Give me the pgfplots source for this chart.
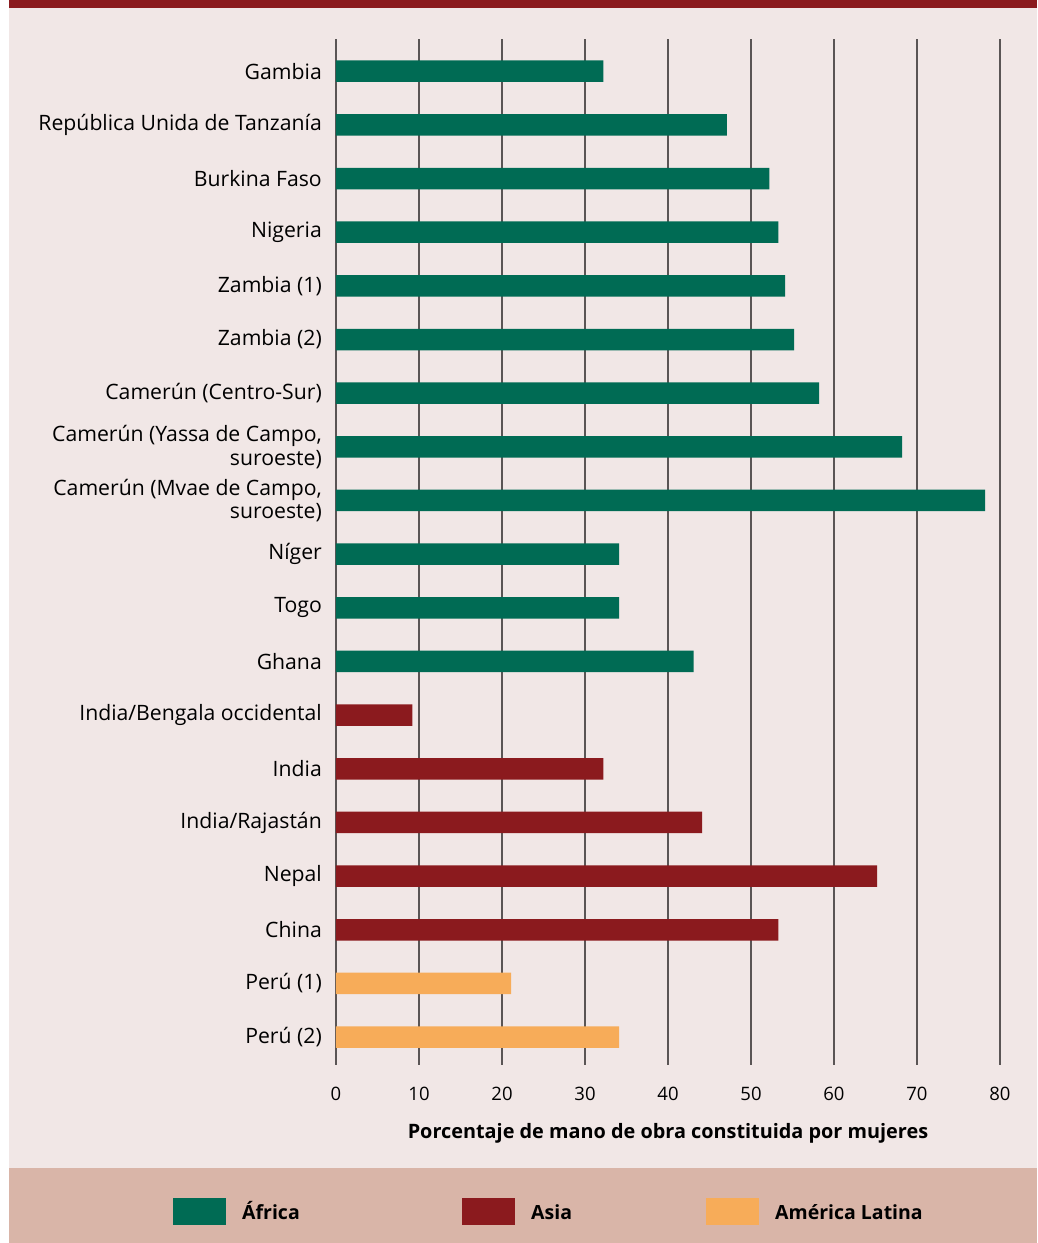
\documentclass[border=0pt]{standalone}
\usepackage{fontspec}
\setmainfont{Open Sans}
\usepackage{pgfplots}
\pgfplotsset{compat=1.18}
\definecolor{afr}{HTML}{006B54}
\definecolor{asi}{HTML}{8B1A1E}
\definecolor{lat}{HTML}{F7AC59}
\definecolor{bg}{HTML}{F1E7E6}
\definecolor{band}{HTML}{D9B5A8}
\definecolor{gridc}{HTML}{5A5555}
\begin{document}
\begin{tikzpicture}[x=1pt,y=1pt]
\useasboundingbox (0,0) rectangle (1037,1243);
\fill[white] (0,0) rectangle (1037,1243);
\fill[bg] (9,75) rectangle (1037,1235);
\fill[asi] (9,1235) rectangle (1037,1243);
\fill[band] (9,0) rectangle (1037,75);
\begin{axis}[
  at={(336pt,178pt)}, anchor=south west,
  scale only axis, width=664pt, height=1026pt,
  xmin=0, xmax=80, ymin=-0.6, ymax=18.52, y dir=reverse,
  xtick={0,10,...,80}, ytick={0,...,18},
  yticklabels={Gambia, República Unida de Tanzanía, Burkina Faso, Nigeria, Zambia (1), Zambia (2), Camerún (Centro-Sur), {Camerún (Yassa de Campo,\\suroeste)}, {Camerún (Mvae de Campo,\\suroeste)}, Níger, Togo, Ghana, India/Bengala occidental, India, India/Rajastán, Nepal, China, Perú (1), Perú (2)},
  axis line style={draw=none}, major tick length=0pt,
  xmajorgrids, grid style={gridc, line width=1.1pt},
  /pgf/number format/assume math mode=true,
  yticklabel style={font=\fontsize{21.2}{23.5}\selectfont, align=right, inner sep=0pt, xshift=-14pt},
  xticklabel style={font=\fontsize{18.5}{22}\selectfont, inner sep=0pt, yshift=-22pt},
  xlabel={Porcentaje de mano de obra constituida por mujeres},
  xlabel style={font=\bfseries\fontsize{19.85}{23}\selectfont, at={(axis description cs:0.5,-0.0721)}, anchor=base},
  legend columns=3,
  legend style={draw=none, fill=none, at={(axis description cs:-0.2455,-0.1423)}, anchor=west, inner sep=0pt,
    font=\bfseries\fontsize{19.5}{24}\selectfont, nodes={inner sep=0pt},
    /tikz/every odd column/.append style={column sep=16pt},
    /tikz/every even column/.append style={column sep=0pt}},
]
\addplot[xbar, bar width=21.5pt, bar shift=0pt, fill=afr, draw=none,
  legend image code/.code={\fill[afr] (0pt,-13.5pt) rectangle (53pt,13.5pt);}]
  coordinates {(32.2,0) (47.1,1) (52.2,2) (53.3,3) (54.1,4) (55.2,5) (58.2,6) (68.2,7) (78.2,8) (34.1,9) (34.1,10) (43.1,11)};
\addlegendentry{\makebox[220pt][l]{África\vphantom{Áy}}}
\addplot[xbar, bar width=21.5pt, bar shift=0pt, fill=asi, draw=none,
  legend image code/.code={\fill[asi] (0pt,-13.5pt) rectangle (53pt,13.5pt);}]
  coordinates {(9.2,12) (32.2,13) (44.1,14) (65.2,15) (53.3,16)};
\addlegendentry{\makebox[175pt][l]{Asia\vphantom{Áy}}}
\addplot[xbar, bar width=21.5pt, bar shift=0pt, fill=lat, draw=none,
  legend image code/.code={\fill[lat] (0pt,-13.5pt) rectangle (53pt,13.5pt);}]
  coordinates {(21.1,17) (34.1,18)};
\addlegendentry{América Latina\vphantom{Áy}}
\end{axis}
\end{tikzpicture}
\end{document}
